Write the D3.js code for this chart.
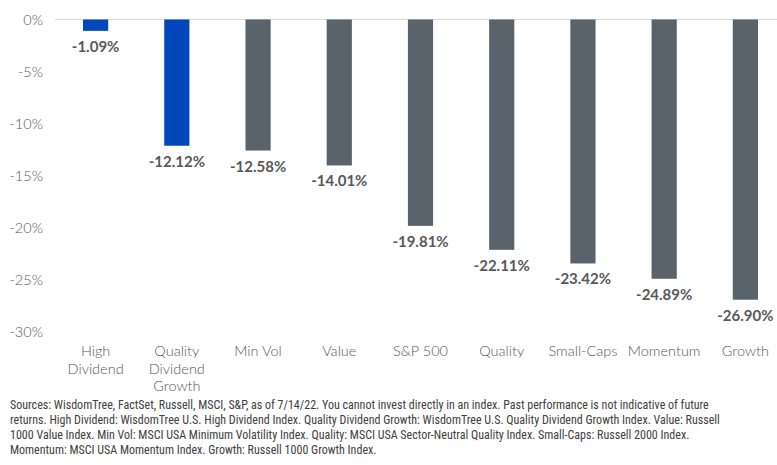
<!DOCTYPE html>
<html>
<head>
<meta charset="utf-8">
<script src="https://cdn.jsdelivr.net/npm/d3@7"></script>
<style>
  body { margin: 0; background: #fff; }
  svg { display: block; }
</style>
</head>
<body>
<div id="chart"></div>
<script>
var categories = ["High Dividend", "Quality Dividend Growth", "Min Vol", "Value", "S&P 500",
                  "Quality", "Small-Caps", "Momentum", "Growth"];
var categoryLines = [["High", "Dividend"], ["Quality", "Dividend", "Growth"], ["Min Vol"], ["Value"],
                     ["S&P 500"], ["Quality"], ["Small-Caps"], ["Momentum"], ["Growth"]];
var returns = [-1.09, -12.12, -12.58, -14.01, -19.81, -22.11, -23.42, -24.89, -26.90];
var highlighted = ["High Dividend", "Quality Dividend Growth"];
var yTicks = [0, -5, -10, -15, -20, -25, -30];
var footnote = [
  "Sources: WisdomTree, FactSet, Russell, MSCI, S&P, as of 7/14/22. You cannot invest directly in an index. Past performance is not indicative of future",
  "returns. High Dividend: WisdomTree U.S. High Dividend Index. Quality Dividend Growth: WisdomTree U.S. Quality Dividend Growth Index. Value: Russell",
  "1000 Value Index. Min Vol: MSCI USA Minimum Volatility Index. Quality: MSCI USA Sector-Neutral Quality Index. Small-Caps: Russell 2000 Index.",
  "Momentum: MSCI USA Momentum Index. Growth: Russell 1000 Growth Index."
];

var width = 777, height = 465;
var data = categories.map(function(c, i) {
  return { name: c, lines: categoryLines[i], value: returns[i] };
});

var svg = d3.select("#chart").append("svg")
  .attr("width", width)
  .attr("height", height);

var xScale = d3.scaleBand()
  .domain(categories)
  .range([55, 786])
  .paddingInner(0.69)
  .paddingOuter(0.345);

var yScale = d3.scaleLinear()
  .domain([-30, 0])
  .range([332, 19.5]);

// y axis labels
var yAxis = d3.axisLeft(yScale)
  .tickValues(yTicks)
  .tickFormat(function(d) { return d + "%"; })
  .tickSize(0)
  .tickPadding(0);

var yg = svg.append("g")
  .attr("transform", "translate(43,0)")
  .call(yAxis);
yg.select(".domain").remove();
yg.selectAll("text")
  .attr("fill", "#595959")
  .style("font-family", "Lato, 'Open Sans', sans-serif")
  .style("font-weight", "300")
  .style("font-size", "14.5px");

// zero line
svg.append("line")
  .attr("x1", 55).attr("x2", 777)
  .attr("y1", yScale(0)).attr("y2", yScale(0))
  .attr("stroke", "#d9d9d9")
  .attr("stroke-width", 1);

// bars
svg.selectAll(".bar")
  .data(data)
  .enter()
  .append("rect")
  .attr("class", "bar")
  .attr("x", function(d) { return xScale(d.name); })
  .attr("y", yScale(0))
  .attr("width", xScale.bandwidth())
  .attr("height", function(d) { return yScale(d.value) - yScale(0); })
  .attr("fill", function(d) {
    return highlighted.indexOf(d.name) >= 0 ? "#0047bb" : "#59636c";
  });

// value labels
svg.selectAll(".val")
  .data(data)
  .enter()
  .append("text")
  .attr("class", "val")
  .attr("x", function(d) { return xScale(d.name) + xScale.bandwidth() / 2; })
  .attr("y", function(d) { return yScale(d.value) + 21; })
  .attr("text-anchor", "middle")
  .attr("fill", "#595959")
  .style("font-family", "Lato, 'Open Sans', sans-serif")
  .style("font-weight", "bold")
  .style("font-size", "15px")
  .text(function(d) { return d.value.toFixed(2) + "%"; });

// category labels
var cat = svg.selectAll(".cat")
  .data(data)
  .enter()
  .append("text")
  .attr("class", "cat")
  .attr("text-anchor", "middle")
  .attr("fill", "#595959")
  .style("font-family", "Lato, 'Open Sans', sans-serif")
  .style("font-weight", "300")
  .style("font-size", "14.5px");

cat.selectAll("tspan")
  .data(function(d) {
    return d.lines.map(function(l) { return { line: l, name: d.name }; });
  })
  .enter()
  .append("tspan")
  .attr("x", function(d) { return xScale(d.name) + xScale.bandwidth() / 2; })
  .attr("y", function(d, i) { return 356 + i * 17.5; })
  .text(function(d) { return d.line; });

// footnote
svg.append("text")
  .attr("fill", "#404040")
  .style("font-family", "'Liberation Sans Narrow', 'Roboto Condensed', 'Open Sans', sans-serif")
  .style("font-size", "12px")
  .selectAll("tspan")
  .data(footnote)
  .enter()
  .append("tspan")
  .attr("x", 10)
  .attr("y", function(d, i) { return 409 + i * 15; })
  .text(function(d) { return d; });
</script>
</body>
</html>
